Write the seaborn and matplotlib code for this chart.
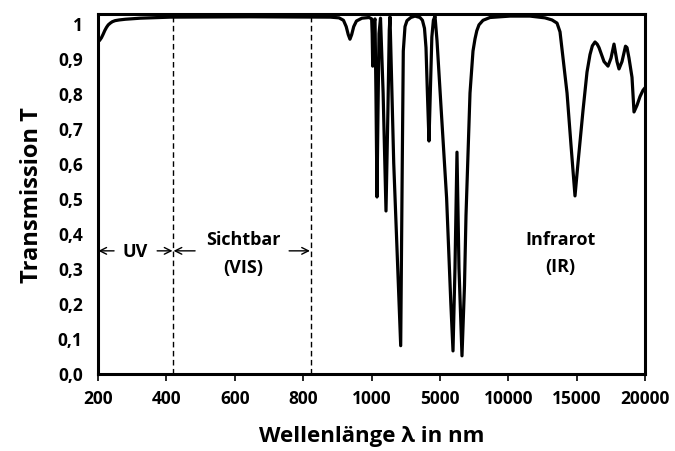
import numpy as np
import pandas as pd
import matplotlib
matplotlib.use("Agg")
import matplotlib.pyplot as plt
import seaborn as sns

# ---- data -------------------------------------------------------------
tick_values = [200, 400, 600, 800, 1000, 5000, 10000, 15000, 20000]
tick_labels = ["200", "400", "600", "800", "1000", "5000", "10000", "15000", "20000"]
y_ticks = [0.0, 0.1, 0.2, 0.3, 0.4, 0.5, 0.6, 0.7, 0.8, 0.9, 1.0]
y_tick_labels = ["0,0", "0,1", "0,2", "0,3", "0,4", "0,5", "0,6", "0,7", "0,8", "0,9", "1"]

wavelength = [200, 205, 210, 215, 220, 225, 230, 236, 242, 250, 262, 280, 323,
              411, 644, 880, 905, 918, 926, 932, 937, 942, 948, 956, 972, 993,
              1010, 1040, 1071, 1110, 1160, 1205, 1260, 1321, 1380, 1440, 1527,
              1680, 1848, 1960, 2040, 2082, 2300, 2708, 2800, 2860, 2960, 3076,
              3300, 3544, 3837, 3980, 4100, 4188, 4270, 4363, 4440, 4530, 4620,
              4715, 4832, 5100, 5492, 5800, 5960, 6105, 6251, 6397, 6617, 6800,
              6910, 7203, 7422, 7569, 7700, 7860, 8155, 8665, 10125, 11588,
              12685, 13200, 13566, 13785, 14006, 14299, 14591, 14881, 15100,
              15466, 15759, 15978, 16150, 16344, 16500, 16637, 17003, 17295,
              17515, 17733, 17953, 18099, 18318, 18574, 18684, 18830, 19050,
              19196, 19415, 19635, 19854, 20000]
transmission = [0.946, 0.951, 0.958, 0.968, 0.979, 0.988, 0.995, 1.0, 1.004, 1.007, 1.009, 1.011, 1.014,
                1.017, 1.018, 1.017, 1.015, 1.008, 0.99, 0.967, 0.954, 0.967, 0.99, 1.006, 1.014, 1.016,
                1.012, 0.97, 0.877, 0.97, 1.005, 1.012, 0.8, 0.503, 0.75, 0.97, 1.014,
                0.8, 0.463, 0.75, 0.98, 1.018, 0.6, 0.078, 0.6, 0.92, 0.99, 1.007,
                1.016, 1.02, 1.016, 1.008, 0.985, 0.93, 0.8, 0.663, 0.8, 0.96, 1.008,
                1.02, 0.95, 0.75, 0.5, 0.2, 0.063, 0.3, 0.631,
                0.3, 0.049, 0.25, 0.45, 0.8, 0.92, 0.955, 0.978, 0.995, 1.008, 1.016, 1.02, 1.02,
                1.015, 1.009, 1.0, 0.975, 0.9, 0.80, 0.65, 0.506, 0.6,
                0.75, 0.86, 0.91, 0.935, 0.946, 0.94, 0.93, 0.89, 0.877,
                0.9, 0.94, 0.89, 0.869, 0.89, 0.934, 0.93, 0.9, 0.845,
                0.746, 0.765, 0.79, 0.808, 0.815]

region_bounds = [419, 823]

# ---- figure -----------------------------------------------------------
sns.set_theme(style="white")
plt.rcParams["font.family"] = ["Open Sans", "DejaVu Sans"]
plt.rcParams["font.weight"] = "bold"

fig = plt.figure(figsize=(6.75, 4.52), dpi=100)
ax = fig.add_axes([98 / 675, 77 / 452, 547 / 675, 360 / 452])

tick_pos = np.arange(len(tick_values), dtype=float)


def fwd(x):
    return np.interp(x, tick_values, tick_pos)


def inv(p):
    return np.interp(p, tick_pos, tick_values)


ax.set_xscale("function", functions=(fwd, inv))

df = pd.DataFrame({"wl": wavelength, "T": transmission})
sns.lineplot(data=df, x="wl", y="T", ax=ax, color="black", linewidth=2.3,
             estimator=None, sort=False)

for b in region_bounds:
    ax.axvline(b, color="black", linewidth=1.0, linestyle=(0, (4, 2.5)))

ax.set_xlim(200, 20000)
ax.set_ylim(-0.003, 1.026)
ax.set_xticks(tick_values)
ax.set_xticklabels(tick_labels)
ax.set_yticks(y_ticks)
ax.set_yticklabels(y_tick_labels)
ax.minorticks_off()

ax.tick_params(axis="x", bottom=True, direction="out", length=5, width=1.2,
               color="black", labelsize=12.5, pad=6)
ax.tick_params(axis="y", left=False, length=0, labelsize=12.5, pad=11)
for lab in ax.get_xticklabels() + ax.get_yticklabels():
    lab.set_fontweight("bold")
    lab.set_color("black")

for s in ax.spines.values():
    s.set_visible(True)
    s.set_color("black")
    s.set_linewidth(2.2)

ax.set_xlabel("Wellenlänge λ in nm", fontsize=16, fontweight="bold",
              color="black", labelpad=13)
ax.set_ylabel("Transmission T", fontsize=17, fontweight="bold",
              color="black", labelpad=10)

# annotations
arr_y = 0.349
akw = dict(arrowstyle="->", color="black", lw=1.0, mutation_scale=12,
           shrinkA=0, shrinkB=0)
ax.annotate("", xy=(201, arr_y), xytext=(247, arr_y), arrowprops=akw)
ax.annotate("", xy=(418, arr_y), xytext=(373, arr_y), arrowprops=akw)
ax.annotate("", xy=(421, arr_y), xytext=(484, arr_y), arrowprops=akw)
ax.annotate("", xy=(820, arr_y), xytext=(759, arr_y), arrowprops=akw)

tkw = dict(ha="center", va="center", fontsize=13, fontweight="bold", color="black")
ax.text(308, 0.35, "UV", **tkw)
ax.text(624, 0.383, "Sichtbar", **tkw)
ax.text(624, 0.303, "(VIS)", **tkw)
ax.text(13785, 0.383, "Infrarot", **tkw)
ax.text(13785, 0.306, "(IR)", **tkw)

fig.savefig("out.png", dpi=100)
